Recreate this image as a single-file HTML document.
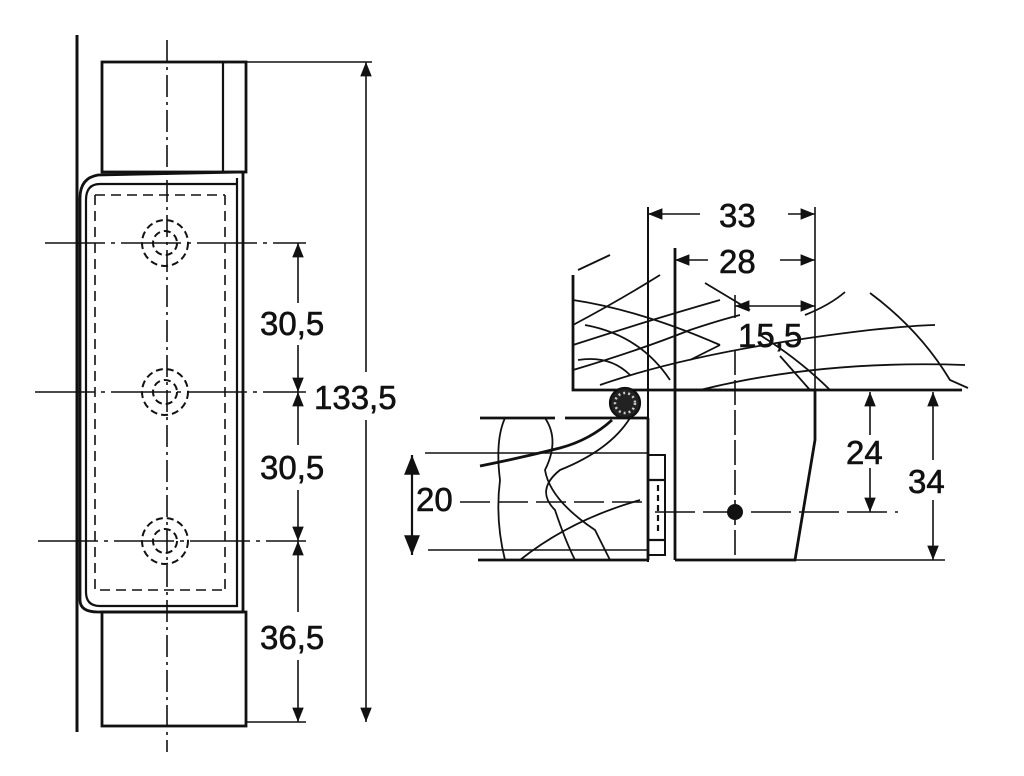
<!DOCTYPE html>
<html><head><meta charset="utf-8"><style>
html,body{margin:0;padding:0;background:#fff;width:1024px;height:776px;overflow:hidden}
svg{display:block}
text{font-family:"Liberation Sans",sans-serif;font-size:33px;fill:#111;stroke:#111;stroke-width:0.6}
</style></head><body>
<svg width="1024" height="776" viewBox="0 0 1024 776" xmlns="http://www.w3.org/2000/svg">
<defs>
<marker id="a" viewBox="0 0 10 10" refX="10" refY="5" markerWidth="9" markerHeight="9" orient="auto-start-reverse"><path d="M0,1 L10,5 L0,9 Z" fill="#111"/></marker>
</defs>
<g stroke="#111" fill="none" stroke-width="2.2">
<line x1="77" y1="35" x2="77" y2="732" stroke-width="3"/>
<rect x="102" y="62" width="144" height="110" stroke-width="2.8"/>
<line x1="223" y1="62" x2="223" y2="172"/>
<line x1="246" y1="62" x2="372" y2="62" stroke-width="1.6"/>
<path d="M243,172 L243,612 M243,172 L98,175 Q80,178 80,198 L80,600 Q80,612 98,612 L243,612" stroke-width="2.8"/>
<path d="M237,178 L237,606 L100,606 Q86,606 86,592 L86,200 Q86,184 100,184 L237,184"/>
<path d="M95,195 L225,195 M95,195 L95,590 L225,590 M225,195 L225,590" stroke-dasharray="10,6" stroke-width="1.6"/>
<rect x="102" y="612" width="144" height="114" stroke-width="2.8"/>
<line x1="167" y1="40" x2="167" y2="752" stroke-dasharray="22,5,3,5" stroke-width="1.6"/>
<g stroke-dasharray="7,4" stroke-width="2">
<circle cx="165" cy="243" r="23"/><circle cx="165" cy="243" r="12"/>
<circle cx="165" cy="392" r="23"/><circle cx="165" cy="392" r="12"/>
<circle cx="165" cy="541" r="23"/><circle cx="165" cy="541" r="12"/>
</g>
<g stroke-dasharray="60,6,4,6" stroke-width="1.6">
<line x1="45" y1="243" x2="306" y2="243"/>
<line x1="35" y1="392" x2="306" y2="392"/>
<line x1="38" y1="541" x2="306" y2="541"/>
</g>
<line x1="246" y1="722" x2="306" y2="722" stroke-width="1.6"/>
<line x1="298" y1="243" x2="298" y2="303" marker-start="url(#a)" stroke-width="1.6"/>
<line x1="298" y1="345" x2="298" y2="392" marker-end="url(#a)" stroke-width="1.6"/>
<line x1="298" y1="392" x2="298" y2="445" marker-start="url(#a)" stroke-width="1.6"/>
<line x1="298" y1="490" x2="298" y2="541" marker-end="url(#a)" stroke-width="1.6"/>
<line x1="298" y1="541" x2="298" y2="612" marker-start="url(#a)" stroke-width="1.6"/>
<line x1="298" y1="660" x2="298" y2="722" marker-end="url(#a)" stroke-width="1.6"/>
<line x1="366" y1="62" x2="366" y2="372" marker-start="url(#a)" stroke-width="1.6"/>
<line x1="366" y1="420" x2="366" y2="722" marker-end="url(#a)" stroke-width="1.6"/>
<path d="M573,275 L573,390 L962,390" stroke-width="2.8"/>
<line x1="648" y1="207" x2="648" y2="562" stroke-width="2"/>
<line x1="675" y1="248" x2="675" y2="560" stroke-width="2.8"/>
<line x1="815" y1="207" x2="815" y2="390" stroke-width="1.6"/>
<line x1="648" y1="214" x2="700" y2="214" marker-start="url(#a)" stroke-width="1.6"/>
<line x1="788" y1="214" x2="815" y2="214" marker-end="url(#a)" stroke-width="1.6"/>
<line x1="675" y1="260" x2="708" y2="260" marker-start="url(#a)" stroke-width="1.6"/>
<line x1="780" y1="260" x2="815" y2="260" marker-end="url(#a)" stroke-width="1.6"/>
<line x1="735" y1="306" x2="815" y2="306" marker-start="url(#a)" marker-end="url(#a)" stroke-width="1.6"/>
<line x1="735" y1="295" x2="735" y2="318" stroke-width="1.6"/>
<line x1="735" y1="350" x2="735" y2="555" stroke-dasharray="25,5" stroke-width="1.6"/>
<path d="M675,390 L815,390 L815,440 L795,560 L675,560" stroke-width="2.8"/>
<line x1="795" y1="560" x2="945" y2="560" stroke-width="1.6"/>
<line x1="655" y1="512" x2="898" y2="512" stroke-dasharray="40,8" stroke-width="1.6"/>
<line x1="870" y1="392" x2="870" y2="435" marker-start="url(#a)" stroke-width="1.6"/>
<line x1="870" y1="468" x2="870" y2="512" marker-end="url(#a)" stroke-width="1.6"/>
<line x1="933" y1="392" x2="933" y2="460" marker-start="url(#a)" stroke-width="1.6"/>
<line x1="933" y1="500" x2="933" y2="560" marker-end="url(#a)" stroke-width="1.6"/>
<path d="M480,418 L555,418 M565,418 L648,418 M648,418 L648,560 M478,560 L648,560" stroke-width="2.8"/>
<line x1="425" y1="453" x2="648" y2="453" stroke-width="1.6"/>
<line x1="428" y1="550" x2="648" y2="550" stroke-width="1.6"/>
<line x1="460" y1="502" x2="648" y2="502" stroke-dasharray="30,8" stroke-width="1.6"/>
<line x1="412" y1="455" x2="412" y2="555" marker-start="url(#a)" marker-end="url(#a)" stroke-width="2.2"/>
<rect x="648" y="455" width="17" height="100" stroke-width="2"/>
<line x1="648" y1="480" x2="665" y2="480"/><line x1="648" y1="540" x2="665" y2="540"/>
<line x1="658" y1="485" x2="658" y2="535" stroke-dasharray="6,4"/>
<g stroke-width="1.8">
<path d="M573,300 Q640,310 720,345"/><path d="M578,270 L610,255"/>
<path d="M573,325 Q620,300 660,275"/><path d="M573,345 Q650,320 720,300"/>
<path d="M573,370 Q640,350 690,330 Q720,320 740,315"/>
<path d="M585,325 Q640,335 670,380"/><path d="M578,360 Q610,355 630,375"/>
<path d="M600,385 Q700,350 870,330 Q920,325 935,325"/>
<path d="M720,345 Q700,355 690,360"/>
<path d="M700,390 Q820,360 965,365"/>
<path d="M705,283 L750,310 M760,335 Q800,360 830,390"/>
<path d="M805,315 Q830,305 845,292"/><path d="M870,293 Q920,330 950,380 L968,388"/>
<path d="M780,356 L810,390"/>
<path d="M505,418 Q495,440 500,480 Q495,520 505,560"/>
<path d="M545,418 Q560,440 545,470 Q550,500 595,530 L610,560"/>
<path d="M630,418 Q610,450 560,470 Q535,490 555,510 Q565,540 575,560"/>
<path d="M520,560 Q570,520 640,500"/><path d="M480,466 Q520,458 560,448 Q590,440 612,420" stroke-width="2.8"/>
</g>
<circle cx="625" cy="403" r="15" fill="#222"/>
</g>
<circle cx="625" cy="403" r="10" fill="none" stroke="#ccc" stroke-width="2.5" stroke-dasharray="2,3"/>
<circle cx="735" cy="512" r="8" fill="#111"/>
<text x="260" y="335">30,5</text>
<text x="260" y="479">30,5</text>
<text x="260" y="649">36,5</text>
<text x="314" y="409">133,5</text>
<text x="719" y="227">33</text>
<text x="719" y="273">28</text>
<text x="738" y="347">15,5</text>
<text x="846" y="464">24</text>
<text x="908" y="493">34</text>
<text x="416" y="511">20</text>
</svg>
</body></html>
